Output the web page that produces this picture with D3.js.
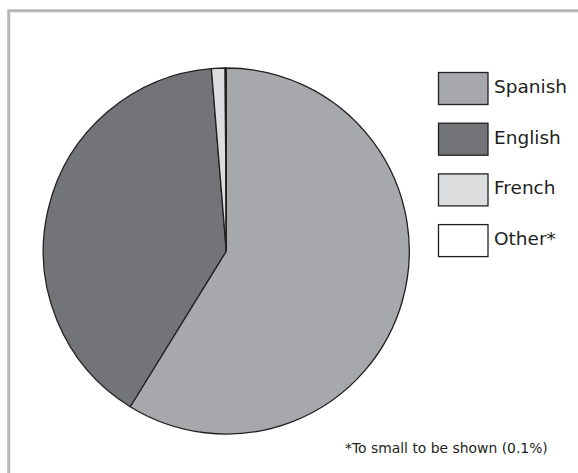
<!DOCTYPE html>
<html>
<head>
<meta charset="utf-8">
<script src="https://cdn.jsdelivr.net/npm/d3@7"></script>
<style>
html,body{margin:0;padding:0;background:#fff;}
svg{display:block;}
</style>
</head>
<body>
<svg id="chart" width="578" height="473"></svg>
<script>
const categories = ["Spanish", "English", "French", "Other*"];
const values = [58.8, 39.9, 1.2, 0.1];
const colors = ["#a7a8ac", "#737478", "#dcdddf", "#ffffff"];
const footnote = "*To small to be shown (0.1%)";

const svg = d3.select("#chart");
const W = 578, H = 473;

// frame (left and top edges)
svg.append("path")
  .attr("d", `M8.75,${H} V10.7 H${W}`)
  .attr("fill", "none")
  .attr("stroke", "#b6b6b9")
  .attr("stroke-width", 3);

const cx = 226.3, cy = 251, r = 183;
const data = categories.map((c, i) => ({name: c, value: values[i], color: colors[i]}));
const pie = d3.pie().sort(null).value(d => d.value);
const arc = d3.arc().innerRadius(0).outerRadius(r);

const g = svg.append("g").attr("transform", `translate(${cx},${cy})`);
g.selectAll("path").data(pie(data)).join("path")
  .attr("d", arc)
  .attr("fill", d => d.data.color)
  .attr("stroke", "#231f20")
  .attr("stroke-width", 1.3)
  .attr("stroke-linejoin", "round");

// legend
const ly = d3.scaleBand().domain(categories).range([72.5, 72.5 + 50.7 * 4]).paddingInner(0).paddingOuter(0);
const leg = svg.append("g");
const items = leg.selectAll("g").data(data).join("g")
  .attr("transform", d => `translate(438.5,${ly(d.name)})`);
items.append("rect")
  .attr("width", 49.5).attr("height", 32)
  .attr("fill", d => d.color)
  .attr("stroke", "#231f20")
  .attr("stroke-width", 1.3);
items.append("text")
  .attr("x", 55.5).attr("y", 20.5)
  .attr("font-family", "DejaVu Sans, sans-serif")
  .attr("font-size", 18.5)
  .attr("fill", "#231f20")
  .text(d => d.name);

svg.append("text")
  .attr("x", 345).attr("y", 452.5)
  .attr("font-family", "DejaVu Sans, sans-serif")
  .attr("font-size", 13.9)
  .attr("fill", "#231f20")
  .text(footnote);
</script>
</body>
</html>
